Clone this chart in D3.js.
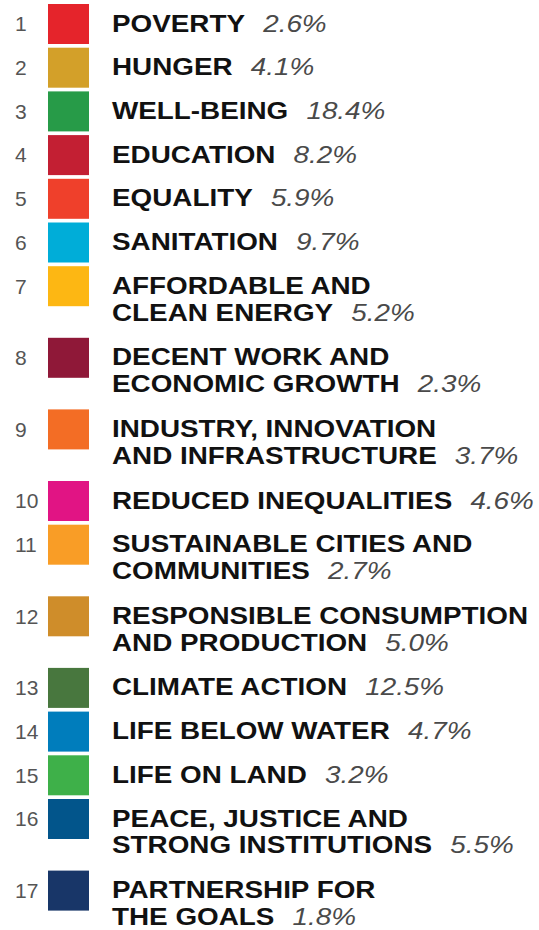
<!DOCTYPE html>
<html>
<head>
<meta charset="utf-8">
<script src="https://cdn.jsdelivr.net/npm/d3@7"></script>
<style>
  body { margin: 0; background: #fff; }
  svg { display: block; font-family: "Liberation Sans", Arial, sans-serif; }
</style>
</head>
<body>
<svg id="chart" width="539" height="930"></svg>
<script>
// SDG share legend

var goalNumbers = [1, 2, 3, 4, 5, 6, 7, 8, 9, 10, 11, 12, 13, 14, 15, 16, 17];

var goalNames = [
  "POVERTY",
  "HUNGER",
  "WELL-BEING",
  "EDUCATION",
  "EQUALITY",
  "SANITATION",
  "AFFORDABLE AND\nCLEAN ENERGY",
  "DECENT WORK AND\nECONOMIC GROWTH",
  "INDUSTRY, INNOVATION\nAND INFRASTRUCTURE",
  "REDUCED INEQUALITIES",
  "SUSTAINABLE CITIES AND\nCOMMUNITIES",
  "RESPONSIBLE CONSUMPTION\nAND PRODUCTION",
  "CLIMATE ACTION",
  "LIFE BELOW WATER",
  "LIFE ON LAND",
  "PEACE, JUSTICE AND\nSTRONG INSTITUTIONS",
  "PARTNERSHIP FOR\nTHE GOALS"
];

var shares = [2.6, 4.1, 18.4, 8.2, 5.9, 9.7, 5.2, 2.3, 3.7, 4.6, 2.7, 5.0, 12.5, 4.7, 3.2, 5.5, 1.8];

var goalColors = [
  "#e5242b", "#d3a029", "#279b48", "#c31f33", "#ef402b", "#00add8",
  "#fdb713", "#8f1838", "#f36d25", "#e11484", "#f99d26", "#cf8d2a",
  "#48773e", "#007dbc", "#3eb049", "#02558b", "#183668"
];

var svg = d3.select("#chart");

var items = goalNumbers.map(function (n, i) {
  return { num: n, lines: goalNames[i].split("\n"), share: shares[i], color: goalColors[i] };
});

// row heights depend on number of label lines
var rowStep = function (d) { return d.lines.length > 1 ? 71.6 : 43.7; };
var offsets = [0].concat(Array.from(d3.cumsum(items, rowStep)));
var y = d3.scaleLinear().domain([0, 1]).range([4, 5]); // 1 unit == 1px, offset 4
var fmt = d3.format(".1f");

var rows = svg.selectAll("g.row")
  .data(items)
  .enter().append("g")
  .attr("class", "row")
  .attr("transform", function (d, i) { return "translate(0," + y(offsets[i]) + ")"; });

rows.append("rect")
  .attr("x", 48)
  .attr("y", 0)
  .attr("width", 41)
  .attr("height", 40)
  .attr("fill", function (d) { return d.color; });

rows.append("text")
  .attr("x", 15)
  .attr("y", 20)
  .attr("dy", "0.35em")
  .attr("font-size", 21)
  .attr("fill", "#555")
  .text(function (d) { return d.num; });

var label = rows.append("g")
  .attr("transform", "translate(112,27.5) scale(1.16,1)")
  .append("text")
  .attr("font-size", 24);

label.each(function (d) {
  var t = d3.select(this);
  d.lines.forEach(function (line, k) {
    t.append("tspan")
      .attr("x", 0)
      .attr("y", k * 27)
      .attr("font-weight", "bold")
      .attr("fill", "#111")
      .text(line);
  });
  t.append("tspan")
    .attr("dx", 9)
    .attr("font-style", "italic")
    .attr("fill", "#4a4a4a")
    .text(" " + fmt(d.share) + "%");
});
</script>
</body>
</html>
